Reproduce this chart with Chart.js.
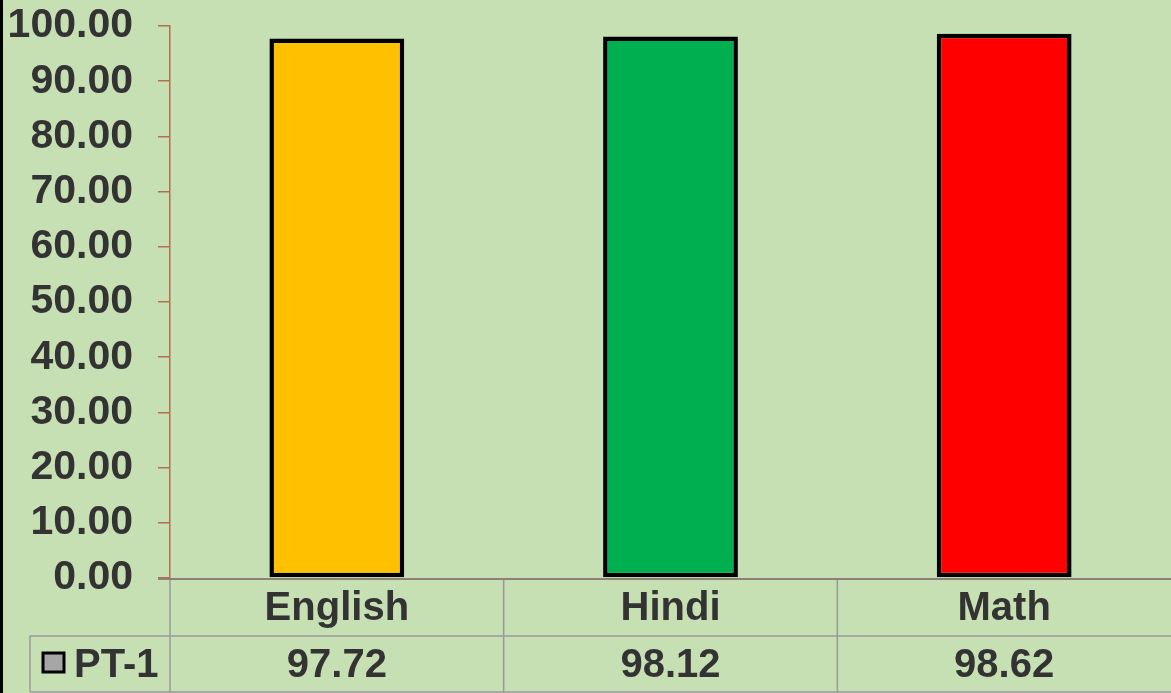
<!DOCTYPE html>
<html>
<head>
<meta charset="utf-8">
<script src="https://cdn.jsdelivr.net/npm/chart.js@4.4.0/dist/chart.umd.min.js"></script>
<style>
  html, body { margin: 0; padding: 0; background: #C6E0B4; }
  #wrap { width: 1171px; height: 693px; position: relative; }
</style>
</head>
<body>
<div id="wrap"><canvas id="chart-area"></canvas></div>
<script>
var subjects = ['English', 'Hindi', 'Math'];
var pt1Scores = [97.72, 98.12, 98.62];
var barColors = ['#FFC000', '#00B050', '#FF0000'];
var seriesName = 'PT-1';

var textColor = '#333333';
var boldFont = 'bold 40px "Liberation Sans", Arial, sans-serif';

// draws the data table under the plot, plus the frame bits
var tablePlugin = {
  id: 'dataTable',
  beforeDraw: function(chart) {
    var ctx = chart.ctx;
    ctx.save();
    ctx.fillStyle = '#C6E0B4';
    ctx.fillRect(0, 0, chart.width, chart.height);
    ctx.restore();
  },
  afterDraw: function(chart) {
    var ctx = chart.ctx;
    var x = chart.scales.x;
    var area = chart.chartArea;
    var row1 = area.bottom + 58;
    var row2 = chart.height - 1;
    var w = chart.width;
    var half = (x.getPixelForValue(1) - x.getPixelForValue(0)) / 2;

    ctx.save();
    // table grid
    ctx.strokeStyle = '#999999';
    ctx.lineWidth = 1.5;
    ctx.beginPath();
    ctx.moveTo(30, row1); ctx.lineTo(w, row1);
    ctx.moveTo(30, row2); ctx.lineTo(w, row2);
    ctx.moveTo(30, row1); ctx.lineTo(30, row2);
    for (var i = 0; i < subjects.length; i++) {
      var left = x.getPixelForValue(i) - half;
      ctx.moveTo(left, area.bottom); ctx.lineTo(left, row2);
    }
    ctx.stroke();

    // category axis line
    ctx.strokeStyle = '#8C8078';
    ctx.lineWidth = 2;
    ctx.beginPath();
    ctx.moveTo(area.left - 12, area.bottom + 1);
    ctx.lineTo(w, area.bottom + 1);
    ctx.stroke();

    // texts
    ctx.fillStyle = textColor;
    ctx.font = boldFont;
    ctx.textAlign = 'center';
    ctx.textBaseline = 'middle';
    for (var j = 0; j < subjects.length; j++) {
      var cx = x.getPixelForValue(j);
      ctx.fillText(subjects[j], cx, (area.bottom + row1) / 2 + 2);
      ctx.fillText(pt1Scores[j].toFixed(2), cx, (row1 + row2) / 2 + 2);
    }

    // legend key
    ctx.fillStyle = '#A6A6A6';
    ctx.fillRect(43, 653, 21, 19);
    ctx.strokeStyle = '#000000';
    ctx.lineWidth = 3;
    ctx.strokeRect(43, 653, 21, 19);
    ctx.fillStyle = textColor;
    ctx.textAlign = 'left';
    ctx.fillText(seriesName, 74, (row1 + row2) / 2 + 2);

    // left frame edge
    ctx.fillStyle = '#000000';
    ctx.fillRect(0, 0, 3, chart.height);
    ctx.restore();
  }
};

var config = {
  type: 'bar',
  data: {
    labels: subjects,
    datasets: [{
      label: seriesName,
      data: pt1Scores,
      backgroundColor: barColors,
      borderColor: '#000000',
      borderWidth: 4.5,
      borderSkipped: false,
      categoryPercentage: 1,
      barPercentage: 0.404
    }]
  },
  options: {
    responsive: true,
    maintainAspectRatio: false,
    animation: false,
    layout: {
      padding: { top: 0, bottom: 115, left: 0, right: 0 }
    },
    plugins: {
      legend: { display: false },
      tooltip: { enabled: false }
    },
    scales: {
      x: {
        display: false
      },
      y: {
        min: 0,
        max: 100,
        afterFit: function(scale) { scale.width = 170; },
        border: { color: '#B07050', width: 1.5 },
        grid: {
          drawOnChartArea: false,
          drawTicks: true,
          tickLength: 12,
          color: '#B07050',
          lineWidth: 1.5
        },
        ticks: {
          stepSize: 10,
          padding: 25,
          color: textColor,
          font: { family: '"Liberation Sans", Arial, sans-serif', size: 41, weight: 'bold', lineHeight: 0.05 },
          callback: function(v) { return v.toFixed(2); }
        }
      }
    }
  },
  plugins: [tablePlugin]
};

window.onload = function() {
  var ctx = document.getElementById('chart-area').getContext('2d');
  window.myBar = new Chart(ctx, config);
};
</script>
</body>
</html>
